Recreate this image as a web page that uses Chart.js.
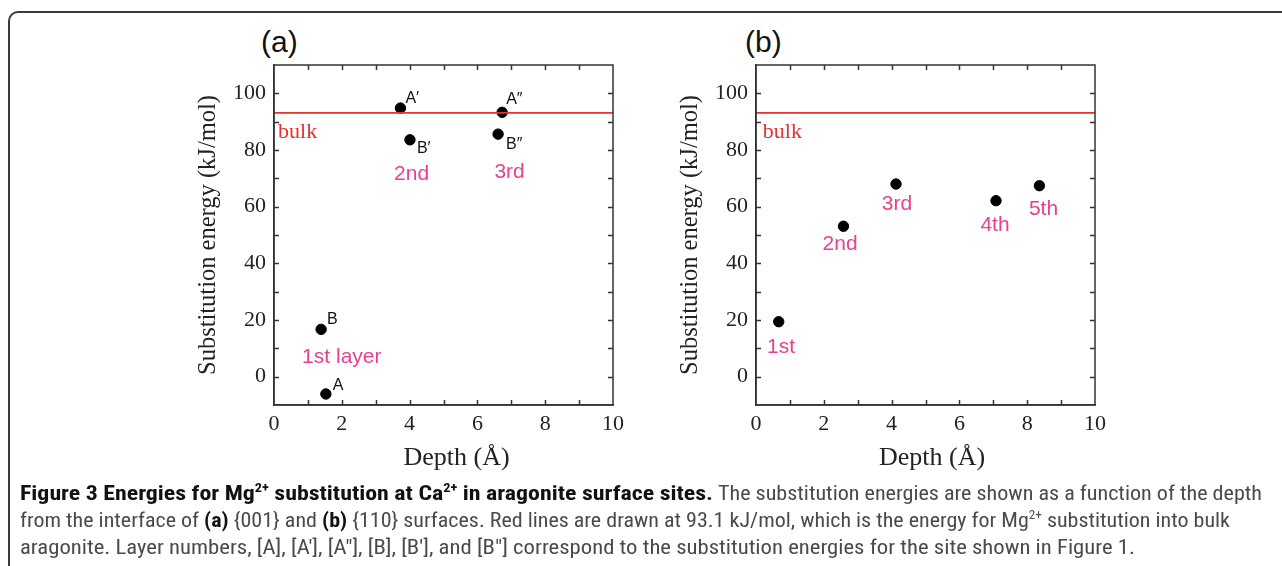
<!DOCTYPE html>
<html>
<head>
<meta charset="utf-8">
<title>Figure 3</title>
<script src="https://cdn.jsdelivr.net/npm/chart.js@4.4.1/dist/chart.umd.min.js"></script>
<style>
  body { margin: 0; width: 1282px; height: 566px; overflow: hidden; background: #fff; position: relative; }
  .frame { position: absolute; left: 8px; top: 11px; width: 1300px; height: 600px; border: 2px solid #3a3a3a; border-radius: 10px; }
  .panel { position: absolute; top: 20px; }
  .tag { position: absolute; top: 25px; font: 30px "Liberation Sans", Arial, sans-serif; color: #111; }
  .cap { position: absolute; font-family: "Liberation Sans Narrow", "Roboto Condensed", "Liberation Sans", sans-serif; font-size: 20px; line-height: 27px; color: #4a4a4a; white-space: nowrap; transform-origin: 0 0; }
  .cap b, .cap.bold { color: #111; font-weight: bold; }
  .cap sup { font-size: 12px; line-height: 0; }
</style>
</head>
<body>
<div class="frame"></div>
<div class="tag" style="left:261px">(a)</div>
<div class="tag" style="left:745px">(b)</div>
<canvas id="chartA" class="panel" style="left:180px" width="460" height="470"></canvas>
<canvas id="chartB" class="panel" style="left:662px" width="460" height="470"></canvas>

<div class="cap bold" id="cap1a" style="left:20px; top:480px">Figure 3 Energies for Mg<sup>2+</sup> substitution at Ca<sup>2+</sup> in aragonite surface sites.</div>
<div class="cap" id="cap1b" style="left:718px; top:480px">The substitution energies are shown as a function of the depth</div>
<div class="cap" id="cap2" style="left:20px; top:507px">from the interface of <b>(a)</b> {001} and <b>(b)</b> {110} surfaces. Red lines are drawn at 93.1 kJ/mol, which is the energy for Mg<sup>2+</sup> substitution into bulk</div>
<div class="cap" id="cap3" style="left:20px; top:534px">aragonite. Layer numbers, [A], [A′], [A″], [B], [B′], and [B″] correspond to the substitution energies for the site shown in Figure 1.</div>

<script>
// values
const bulkEnergy = 93.1;

const depthA = [1.53, 1.39, 3.73, 4.01, 6.73, 6.61];
const energyA = [-6.1, 16.7, 94.8, 83.6, 93.3, 85.6];
const siteA = ['A', 'B', 'A′', 'B′', 'A″', 'B″'];

const depthB = [0.67, 2.58, 4.13, 7.08, 8.36];
const energyB = [19.4, 53.1, 68.0, 62.1, 67.4];

// layer names, placed in data units
const layerTextA = ['1st layer', '2nd', '3rd'];
const layerXA = [2.0, 4.06, 6.95];
const layerYA = [6.7, 71.6, 72.0];

const layerTextB = ['1st', '2nd', '3rd', '4th', '5th'];
const layerXB = [0.74, 2.48, 4.16, 7.05, 8.48];
const layerYB = [10.4, 46.8, 60.8, 53.3, 59.2];

const xTicks = [0, 2, 4, 6, 8, 10];
const yTicks = [0, 20, 40, 60, 80, 100];

// pixel offsets of the site letters from their dots
const siteOffsets = [[7, -8], [6, -10], [5, -9], [7, 9], [4, -13], [8, 10]];

const AXIS = '#333333';
const PINK = '#e8408f';
const RED = '#e5312f';
const SERIF = '"Liberation Serif", "Times New Roman", serif';

// caption pieces are squeezed to the widths they have in the original
const fitCaption = () => {
    [['cap1a', 693], ['cap1b', 544], ['cap2', 1210], ['cap3', 1115]].forEach(([id, w]) => {
        const el = document.getElementById(id);
        el.style.transform = '';
        el.style.transform = `scaleX(${w / el.getBoundingClientRect().width})`;
    });
};
fitCaption();
if (document.fonts) document.fonts.ready.then(fitCaption);

const frameTicks = {
    id: 'frameTicks',
    afterDraw(chart) {
        const { ctx, chartArea: a, scales: { x, y } } = chart;
        ctx.save();
        ctx.strokeStyle = AXIS;
        ctx.lineWidth = 1.5;
        ctx.strokeRect(a.left, a.top, a.right - a.left, a.bottom - a.top);
        ctx.beginPath();
        x.ticks.forEach(t => {
            if (t.value <= x.min || t.value >= x.max) return;
            const px = Math.round(x.getPixelForValue(t.value)) + 0.5;
            ctx.moveTo(px, a.bottom); ctx.lineTo(px, a.bottom - 5);
            ctx.moveTo(px, a.top); ctx.lineTo(px, a.top + 5);
        });
        y.ticks.forEach(t => {
            if (t.value <= y.min || t.value >= y.max) return;
            const py = Math.round(y.getPixelForValue(t.value)) + 0.5;
            ctx.moveTo(a.left, py); ctx.lineTo(a.left + 5, py);
            ctx.moveTo(a.right, py); ctx.lineTo(a.right - 5, py);
        });
        ctx.stroke();
        ctx.restore();
    }
};

const notes = {
    id: 'notes',
    afterDatasetsDraw(chart, args, opts) {
        const { ctx, scales: { x, y } } = chart;
        ctx.save();
        ctx.textBaseline = 'middle';

        // bulk label
        ctx.fillStyle = RED;
        ctx.font = '22px ' + SERIF;
        ctx.textAlign = 'left';
        ctx.fillText('bulk', x.getPixelForValue(opts.bulkX), y.getPixelForValue(86.4));

        // site letters next to dots
        if (opts.sites) {
            const meta = chart.getDatasetMeta(1);
            ctx.fillStyle = '#111';
            ctx.font = '16px "Liberation Sans", Arial, sans-serif';
            meta.data.forEach((pt, i) => {
                const off = siteOffsets[i];
                ctx.fillText(opts.sites[i], pt.x + off[0], pt.y + off[1]);
            });
        }

        // layer names
        ctx.fillStyle = PINK;
        ctx.font = '21px "Liberation Sans", Arial, sans-serif';
        ctx.textAlign = 'center';
        opts.text.forEach((t, i) => {
            ctx.fillText(t, x.getPixelForValue(opts.xs[i]), y.getPixelForValue(opts.ys[i]));
        });
        ctx.restore();
    }
};

const makeChart = (id, xs, ys, xTitle, noteOpts) => {
    const ctx = document.getElementById(id).getContext('2d');
    return new Chart(ctx, {
        type: 'scatter',
        data: {
            datasets: [
                {
                    type: 'line',
                    data: [{ x: 0, y: bulkEnergy }, { x: 10, y: bulkEnergy }],
                    borderColor: RED,
                    borderWidth: 1.6,
                    pointRadius: 0
                },
                {
                    data: xs.map((v, i) => ({ x: v, y: ys[i] })),
                    backgroundColor: '#000',
                    borderColor: '#000',
                    pointRadius: 5.2,
                    pointHoverRadius: 5.2
                }
            ]
        },
        options: {
            responsive: false,
            animation: false,
            events: [],
            layout: { padding: { top: 45, right: 27, left: 0, bottom: 0 } },
            plugins: {
                legend: { display: false },
                tooltip: { enabled: false },
                notes: noteOpts
            },
            scales: {
                x: {
                    type: 'linear',
                    min: 0, max: 10,
                    afterFit: s => { s.height = 85; },
                    grid: { display: false, drawTicks: false },
                    border: { display: true, color: AXIS, width: 1.5 },
                    ticks: {
                        stepSize: 1,
                        autoSkip: false,
                        maxRotation: 0,
                        padding: 6,
                        color: '#222',
                        font: { family: SERIF, size: 22 },
                        callback: v => xTicks.includes(v) ? v : ''
                    },
                    title: {
                        display: true,
                        text: xTitle,
                        color: '#222',
                        font: { family: SERIF, size: 26 },
                        padding: { top: 0, bottom: 16 }
                    }
                },
                y: {
                    min: -10, max: 110,
                    afterFit: s => { s.width = 94; },
                    grid: { display: false, drawTicks: false },
                    border: { display: true, color: AXIS, width: 1.5 },
                    ticks: {
                        stepSize: 10,
                        autoSkip: false,
                        padding: 8,
                        color: '#222',
                        font: { family: SERIF, size: 22 },
                        callback: v => yTicks.includes(v) ? v : ''
                    },
                    title: {
                        display: true,
                        text: 'Substitution energy (kJ/mol)',
                        color: '#222',
                        font: { family: SERIF, size: 24.5 },
                        padding: { top: 14, bottom: 0 }
                    }
                }
            }
        },
        plugins: [frameTicks, notes]
    });
};

makeChart('chartA', depthA, energyA, '\u2002\u2002Depth (Å)', {
    bulkX: 0.12, sites: siteA, text: layerTextA, xs: layerXA, ys: layerYA
});
makeChart('chartB', depthB, energyB, '\u2002Depth (Å)', {
    bulkX: 0.2, sites: null, text: layerTextB, xs: layerXB, ys: layerYB
});
</script>
</body>
</html>
